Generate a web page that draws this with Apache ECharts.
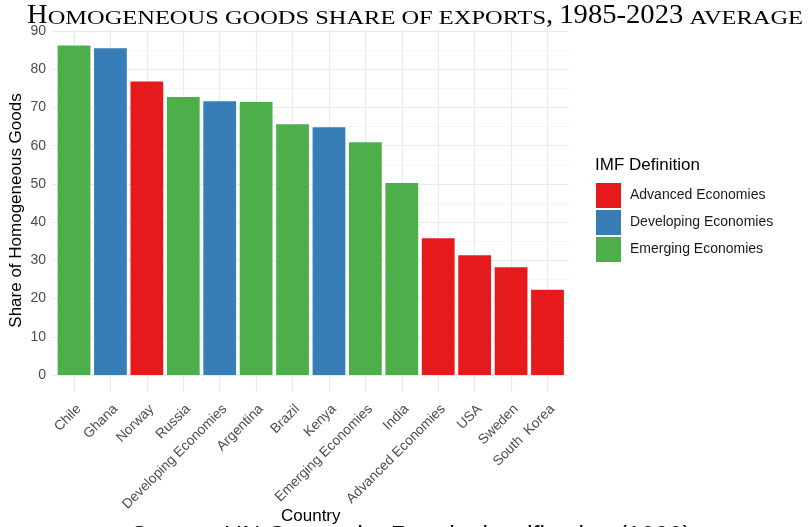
<!DOCTYPE html>
<html>
<head>
<meta charset="utf-8">
<script src="https://cdn.jsdelivr.net/npm/echarts@6/dist/echarts.min.js"></script>
<style>
  html, body { margin: 0; padding: 0; background: #fff; }
  #chart { width: 808px; height: 527px; }
</style>
</head>
<body>
<div id="chart"></div>
<script>
// data
const countries = ['Chile', 'Ghana', 'Norway', 'Russia', 'Developing Economies', 'Argentina', 'Brazil',
  'Kenya', 'Emerging Economies', 'India', 'Advanced Economies', 'USA', 'Sweden', 'South  Korea']
const countryGroup = ['Emerging Economies', 'Developing Economies', 'Advanced Economies', 'Emerging Economies',
  'Developing Economies', 'Emerging Economies', 'Emerging Economies', 'Developing Economies',
  'Emerging Economies', 'Emerging Economies', 'Advanced Economies', 'Advanced Economies',
  'Advanced Economies', 'Advanced Economies']
const shares = [86.2, 85.5, 76.8, 72.7, 71.6, 71.4, 65.6, 64.8, 60.9, 50.2, 35.8, 31.3, 28.2, 22.3]
const groupNames = ['Advanced Economies', 'Developing Economies', 'Emerging Economies']
const groupColors = ['#E41A1C', '#377EB8', '#4DAF4A']

const titleText = 'Homogeneous goods share of exports, 1985-2023 average'
const captionText = 'Source: UN Comtrade, Rauch classification (1999)'

// title is drawn as fake small caps: capitals/digits big, lower case as small capitals
const serif = 'Liberation Serif'
const bigSize = 27
const bigScale = 1.06
const smSize = 18.6
const titleLeft = 27
const titleRight = 803
const titleBase = 25.5

function splitRuns (str) {
  const runs = []
  for (const ch of str) {
    const kind = (ch >= 'a' && ch <= 'z') || ch === ' ' ? 'sm' : 'big'
    const last = runs[runs.length - 1]
    if (last && last.kind === kind) last.text += ch.toUpperCase()
    else runs.push({ kind: kind, text: ch.toUpperCase() })
  }
  return runs
}

const measureCtx = document.createElement('canvas').getContext('2d')
function textWidth (text, size) {
  measureCtx.font = size + 'px "' + serif + '"'
  return measureCtx.measureText(text).width
}

function titleElements () {
  const runs = splitRuns(titleText)
  let bigW = 0
  let smW = 0
  runs.forEach(r => {
    if (r.kind === 'big') bigW += textWidth(r.text, bigSize) * bigScale
    else smW += textWidth(r.text, smSize)
  })
  const smScale = (titleRight - titleLeft - bigW) / smW
  let x = titleLeft
  return runs.map(r => {
    const size = r.kind === 'big' ? bigSize : smSize
    const sx = r.kind === 'big' ? bigScale : smScale
    const el = {
      type: 'text',
      x: x,
      y: titleBase - 0.3375 * size,
      scaleX: sx,
      style: { text: r.text, fontFamily: serif, fontSize: size, fill: '#000', verticalAlign: 'middle' }
    }
    x += textWidth(r.text, size) * sx
    return el
  })
}

const chart = echarts.init(document.getElementById('chart'))

const barSeries = groupNames.map((g, i) => ({
  name: g,
  type: 'bar',
  xAxisIndex: 2,
  yAxisIndex: 2,
  barGap: '-100%',
  barCategoryGap: '10%',
  itemStyle: { color: groupColors[i] },
  data: shares.map((v, k) => countryGroup[k] === g ? v : '-')
}))

const option = {
  animation: false,
  textStyle: { fontFamily: 'Liberation Sans' },
  grid: [
    { left: 52, width: 517, top: 31, height: 344, outerBoundsMode: 'none' },
    { left: 74, width: 473.5, top: 29, height: 363, outerBoundsMode: 'none' },
    { left: 55.8, width: 509.9, top: 31, height: 344, outerBoundsMode: 'none' }
  ],
  xAxis: [
    { gridIndex: 0, type: 'value', show: false, min: 0, max: 1 },
    {
      gridIndex: 1,
      type: 'category',
      boundaryGap: false,
      data: countries,
      axisLine: { show: false },
      axisTick: { show: false },
      splitLine: { show: true, lineStyle: { color: '#EBEBEB', width: 1.2 } },
      axisLabel: { rotate: 45, margin: 10, verticalAlign: 'top', color: '#4D4D4D', fontSize: 13.8, interval: 0 },
      name: 'Country',
      nameLocation: 'middle',
      nameGap: 116,
      nameMoveOverlap: false,
      nameTextStyle: { color: '#000', fontSize: 17 }
    },
    { gridIndex: 2, type: 'category', data: countries, show: false }
  ],
  yAxis: [
    {
      gridIndex: 0,
      type: 'value',
      min: 0,
      max: 90,
      interval: 10,
      axisLine: { show: false },
      axisTick: { show: false },
      axisLabel: { color: '#4D4D4D', fontSize: 14, margin: 6 },
      splitLine: { lineStyle: { color: '#EBEBEB', width: 1.2 } },
      minorTick: { show: false, splitNumber: 2 },
      minorSplitLine: { show: true, lineStyle: { color: '#F2F2F2', width: 0.8 } }
    },
    {
      gridIndex: 1,
      type: 'value',
      min: 0,
      max: 1,
      axisLine: { show: false },
      axisTick: { show: false },
      axisLabel: { show: false },
      splitLine: { show: false },
      name: 'Share of Homogeneous Goods',
      nameLocation: 'middle',
      nameGap: 49,
      nameMoveOverlap: false,
      nameTextStyle: { color: '#000', fontSize: 17 }
    },
    { gridIndex: 2, type: 'value', min: 0, max: 90, show: false, splitLine: { show: false } }
  ],
  legend: {
    orient: 'vertical',
    left: 596,
    top: 183,
    padding: 0,
    icon: 'rect',
    itemWidth: 25,
    itemHeight: 25,
    itemGap: 2,
    textStyle: { color: '#1A1A1A', fontSize: 14, padding: [0, 0, 0, 4] },
    data: groupNames
  },
  graphic: titleElements().concat([
    {
      type: 'text',
      left: 595,
      top: 157,
      style: { text: 'IMF Definition', fontFamily: 'Liberation Sans', fontSize: 17, fill: '#000' }
    },
    {
      type: 'text',
      left: 131,
      top: 525,
      style: { text: captionText, fontFamily: 'Liberation Sans', fontSize: 25, fill: '#000' }
    }
  ]),
  series: barSeries
}

chart.setOption(option)
</script>
</body>
</html>
